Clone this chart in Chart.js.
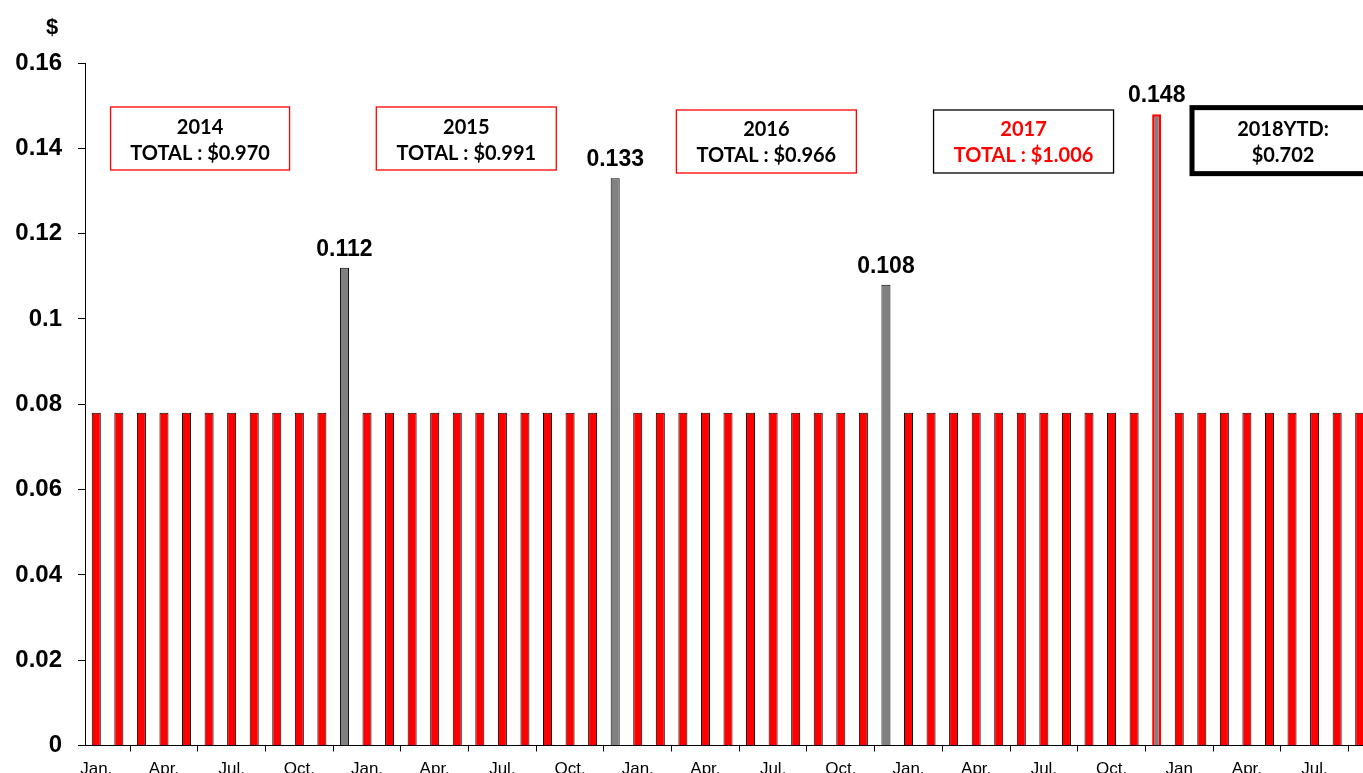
<!DOCTYPE html>
<html lang="en">
<head>
<meta charset="UTF-8">
<title>Monthly dividends</title>
<script src="https://cdn.jsdelivr.net/npm/chart.js"></script>
<style>
    html, body { margin: 0; padding: 0; background: #fff; overflow: hidden; }
    #wrap { position: absolute; left: 0; top: 0; width: 1371px; height: 800px; }
</style>
<script>
    // month names on the category axis (2018 "Jan" has no period in the original)
    var months = ['Jan.', 'Feb.', 'Mar.', 'Apr.', 'May', 'Jun.', 'Jul.', 'Aug.', 'Sep.', 'Oct.', 'Nov.', 'Dec.'];
    var months2018 = ['Jan', 'Feb.', 'Mar.', 'Apr.', 'May', 'Jun.', 'Jul.', 'Aug.', 'Sep.'];

    // monthly payments ($), December carries the year-end special
    var pay2014 = [0.078, 0.078, 0.078, 0.078, 0.078, 0.078, 0.078, 0.078, 0.078, 0.078, 0.078, 0.112];
    var pay2015 = [0.078, 0.078, 0.078, 0.078, 0.078, 0.078, 0.078, 0.078, 0.078, 0.078, 0.078, 0.133];
    var pay2016 = [0.078, 0.078, 0.078, 0.078, 0.078, 0.078, 0.078, 0.078, 0.078, 0.078, 0.078, 0.108];
    var pay2017 = [0.078, 0.078, 0.078, 0.078, 0.078, 0.078, 0.078, 0.078, 0.078, 0.078, 0.078, 0.148];
    var pay2018 = [0.078, 0.078, 0.078, 0.078, 0.078, 0.078, 0.078, 0.078, 0.078];

    var yTicks = [0, 0.02, 0.04, 0.06, 0.08, 0.1, 0.12, 0.14, 0.16];

    var yearNotes = [
        ['2014', 'TOTAL : $0.970'],
        ['2015', 'TOTAL : $0.991'],
        ['2016', 'TOTAL : $0.966'],
        ['2017', 'TOTAL : $1.006'],
        ['2018YTD:', '$0.702']
    ];
</script>
</head>
<body>
<div id="wrap"><canvas id="grafico"></canvas></div>
<script>
    var labels = [].concat(months, months, months, months, months2018);
    var values = [].concat(pay2014, pay2015, pay2016, pay2017, pay2018);

    var specialIdx = [11, 23, 35, 47];
    var fills = values.map(function (v, i) { return specialIdx.indexOf(i) >= 0 ? '#808080' : '#ff0000'; });
    var borders = values.map(function (v, i) { return i === 47 ? '#ff0000' : '#000000'; });
    var borderW = values.map(function (v, i) { return i === 47 ? 2.5 : 1; });

    // where each note box sits: category position / value at its centre, size in px
    var notePos = [
        { c: 4.6, v: 0.1423, w: 179, h: 63, border: '#ff0000', lw: 1.3, color: '#000' },
        { c: 16.4, v: 0.1423, w: 180, h: 63, border: '#ff0000', lw: 1.3, color: '#000' },
        { c: 29.7, v: 0.1416, w: 180, h: 63, border: '#ff0000', lw: 1.3, color: '#000' },
        { c: 41.1, v: 0.1416, w: 180, h: 63, border: '#000000', lw: 1.3, color: '#ff0000' },
        { c: 52.6, v: 0.1418, w: 182, h: 66, border: '#000000', lw: 5, color: '#000' }
    ];

    var extras = {
        id: 'extras',
        afterDraw: function (chart) {
            var ctx = chart.ctx;
            var xs = chart.scales.x, ys = chart.scales.y;
            var area = chart.chartArea;
            ctx.save();

            // value labels over the specials
            ctx.font = 'bold 23px "Liberation Sans", Arial, sans-serif';
            ctx.fillStyle = '#000';
            ctx.textAlign = 'center';
            ctx.textBaseline = 'alphabetic';
            var meta = chart.getDatasetMeta(0);
            specialIdx.forEach(function (i) {
                var bar = meta.data[i];
                ctx.fillText(values[i].toFixed(3), bar.x, bar.y - 12);
            });

            // "$" unit
            ctx.font = 'bold 22px "Liberation Sans", Arial, sans-serif';
            ctx.fillText('$', area.left - 33, area.top - 29);

            // year total boxes
            ctx.font = 'bold 20px Lato, "Open Sans", sans-serif';
            notePos.forEach(function (p, k) {
                var cx = xs.getPixelForValue(p.c);
                var cy = ys.getPixelForValue(p.v);
                ctx.fillStyle = '#fff';
                ctx.fillRect(cx - p.w / 2, cy - p.h / 2, p.w, p.h);
                ctx.strokeStyle = p.border;
                ctx.lineWidth = p.lw;
                ctx.strokeRect(cx - p.w / 2, cy - p.h / 2, p.w, p.h);
                ctx.fillStyle = p.color;
                ctx.fillText(yearNotes[k][0], cx, cy - 5);
                ctx.fillText(yearNotes[k][1], cx, cy + 21);
            });
            ctx.restore();
        }
    };

    var ctx = document.getElementById('grafico').getContext('2d');
    new Chart(ctx, {
        type: 'bar',
        data: {
            labels: labels,
            datasets: [{
                data: values,
                backgroundColor: fills,
                borderColor: borders,
                borderWidth: borderW,
                barPercentage: 0.4,
                categoryPercentage: 1.0
            }]
        },
        options: {
            responsive: true,
            maintainAspectRatio: false,
            animation: false,
            layout: { padding: { top: 63, right: 0, bottom: 0, left: 0 } },
            plugins: {
                legend: { display: false },
                tooltip: { enabled: false }
            },
            scales: {
                x: {
                    offset: true,
                    grid: {
                        offset: true,
                        drawOnChartArea: false,
                        drawTicks: true,
                        tickLength: 6,
                        color: '#000'
                    },
                    border: { color: '#000', width: 1 },
                    ticks: {
                        autoSkip: false,
                        maxRotation: 0,
                        padding: 8,
                        color: '#000',
                        font: { family: '"Liberation Sans", Arial, sans-serif', size: 17 },
                        callback: function (val, i) { return i % 3 === 0 ? labels[i] : null; }
                    },
                    afterFit: function (s) { s.height = 54.5; }
                },
                y: {
                    min: 0,
                    max: 0.16,
                    afterBuildTicks: function (s) { s.ticks = yTicks.map(function (v) { return { value: v }; }); },
                    grid: {
                        drawOnChartArea: false,
                        drawTicks: true,
                        tickLength: 7,
                        color: '#000'
                    },
                    border: { color: '#000', width: 1 },
                    ticks: {
                        padding: 16,
                        color: '#000',
                        font: { family: '"Liberation Sans", Arial, sans-serif', size: 24, weight: 'bold' },
                        callback: function (v) { return String(+v.toFixed(2)); }
                    },
                    afterFit: function (s) { s.width = 85; }
                }
            }
        },
        plugins: [extras]
    });
</script>
</body>
</html>
